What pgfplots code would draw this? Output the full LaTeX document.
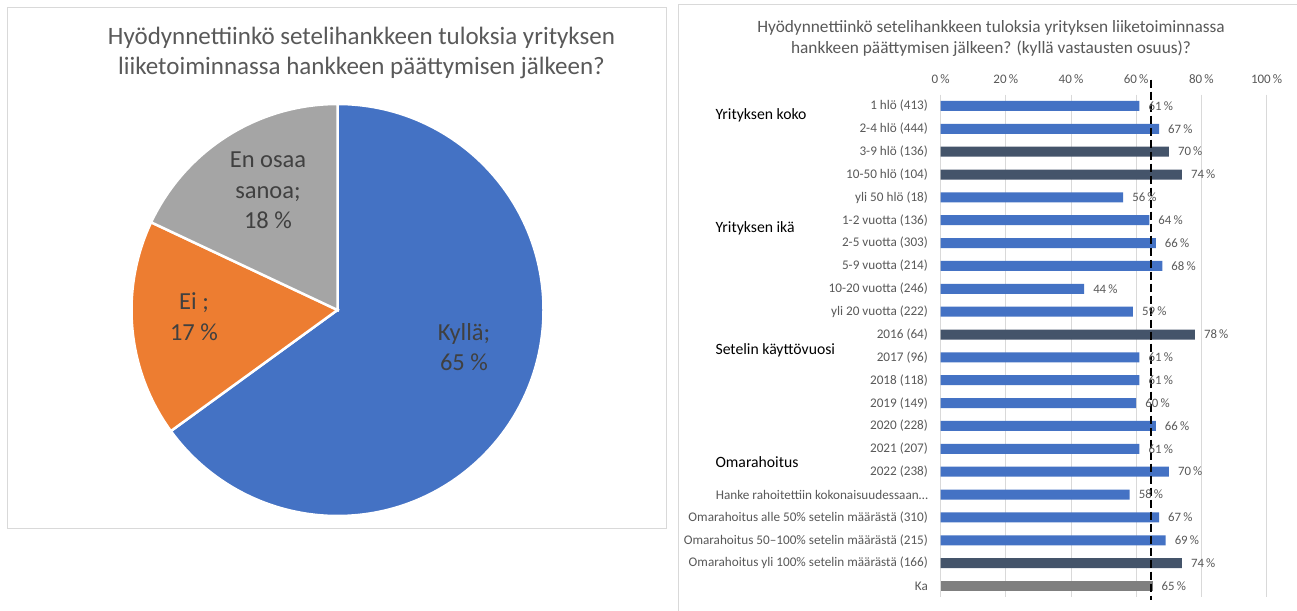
\documentclass[border=0pt]{standalone}
\usepackage{fontspec}
\setmainfont{Carlito}
\usepackage{pgfplots}
\pgfplotsset{compat=1.18}
\usepackage{pgfplotstable}
\definecolor{cblue}{HTML}{4472C4}
\definecolor{cdark}{HTML}{44546A}
\definecolor{cka}{HTML}{7F7F7F}
\definecolor{corange}{HTML}{ED7D31}
\definecolor{cpgray}{HTML}{A5A5A5}
\definecolor{ctext}{HTML}{595959}
\definecolor{cpie}{HTML}{404040}
\definecolor{cgrid}{HTML}{D9D9D9}

% Pie values (%)
\newcommand\pKylla{65}
\newcommand\pEi{17}
\newcommand\pEOS{18}

% bar rows: row index from top, value
\pgfplotstableread{
row val
0 61
1 67
4 56
5 64
6 66
7 68
8 44
9 59
11 61
12 61
13 60
14 66
15 61
16 70
17 58
18 67
19 69
}\blueData
\pgfplotstableread{
row val
2 70
3 74
10 78
20 74
}\darkData
\pgfplotstableread{
row val
21 65
}\kaData

\begin{document}
\begin{tikzpicture}
\path[use as bounding box] (0pt,0pt) rectangle (1297pt,610pt);
\fill[white] (0pt,0pt) rectangle (1297pt,610pt);
\draw[cgrid, line width=1pt] (7pt,81pt) rectangle (666pt,602pt);
\draw[cgrid, line width=1pt] (678pt,-5pt) rectangle (1305pt,605pt);

% ---------- pie ----------
\begin{axis}[at={(337.5pt,300pt)}, anchor=center, width=412pt, height=412pt,
  scale only axis, xmin=-1, xmax=1, ymin=-1, ymax=1, hide axis, clip=false]
\fill[cblue, draw=white, line width=2.5pt] (axis cs:0,0) -- (axis cs:0,1)
  arc[start angle=90, delta angle={-3.6*\pKylla}, radius=1] -- cycle;
\fill[corange, draw=white, line width=2.5pt] (axis cs:0,0) -- ({cos(90-3.6*\pKylla)},{sin(90-3.6*\pKylla)})
  arc[start angle={90-3.6*\pKylla}, delta angle={-3.6*\pEi}, radius=1] -- cycle;
\fill[cpgray, draw=white, line width=2.5pt] (axis cs:0,0) -- ({cos(90-3.6*(\pKylla+\pEi))},{sin(90-3.6*(\pKylla+\pEi))})
  arc[start angle={90-3.6*(\pKylla+\pEi)}, delta angle={-3.6*\pEOS}, radius=1] -- cycle;
\end{axis}

\node[text=ctext, align=center, font=\fontsize{25}{30}\selectfont] at (361.5pt,557pt)
  {Hyödynnettiinkö setelihankkeen tuloksia yrityksen\\liiketoiminnassa hankkeen päättymisen jälkeen?};
\node[text=cpie, align=center, font=\fontsize{24.5}{30.5}\selectfont] at (268pt,419.5pt) {En osaa\\sanoa;\\18 \%};
\node[text=cpie, align=center, font=\fontsize{24.5}{30.5}\selectfont] at (194pt,293.5pt) {Ei ;\\17 \%};
\node[text=cpie, align=center, font=\fontsize{24.5}{30.5}\selectfont] at (464pt,263pt) {Kyllä;\\65 \%};

% ---------- bars ----------
\node[text=ctext, align=center, font=\fontsize{17.3}{21}\selectfont] at (991pt,571.5pt)
  {Hyödynnettiinkö setelihankkeen tuloksia yrityksen liiketoiminnassa\\hankkeen päättymisen jälkeen? (kyllä vastausten osuus)?};

\begin{axis}[at={(940.6pt,12.6pt)}, anchor=south west, width=326pt, height=502.9pt,
  scale only axis, xmin=0, xmax=100, ymin=-0.5, ymax=21.5, y dir=reverse,
  /pgf/number format/assume math mode=true,
  xtick={0,20,40,60,80,100},
  xticklabels={0\,\%,20\,\%,40\,\%,60\,\%,80\,\%,100\,\%},
  xticklabel pos=upper,
  xmajorgrids, grid style={cgrid, line width=0.8pt},
  ytick={0,...,21},
  yticklabels={{1 hlö (413)},{2-4 hlö (444)},{3-9 hlö (136)},{10-50 hlö (104)},{yli 50 hlö (18)},
    {1-2 vuotta (136)},{2-5 vuotta (303)},{5-9 vuotta (214)},{10-20 vuotta (246)},{yli 20 vuotta (222)},
    {2016 (64)},{2017 (96)},{2018 (118)},{2019 (149)},{2020 (228)},{2021 (207)},{2022 (238)},
    {Hanke rahoitettiin kokonaisuudessaan…},{Omarahoitus alle 50\% setelin määrästä (310)},
    {Omarahoitus 50–100\% setelin määrästä (215)},{Omarahoitus yli 100\% setelin määrästä (166)},{Ka}},
  axis line style={draw=none}, major tick length=0pt,
  xticklabel style={font=\fontsize{13}{15}\selectfont, text=ctext, yshift=7pt},
  yticklabel style={font=\fontsize{13.2}{15}\selectfont, text=ctext, anchor=east, inner sep=0pt, xshift=-12.5pt},
  clip=false,
  barstyle/.style={xbar, bar width=10pt, bar shift=0pt, draw=none, point meta=x,
    nodes near coords={\pgfmathprintnumber{\pgfplotspointmeta}\,\%},
    nodes near coords style={font=\fontsize{12.8}{14}\selectfont, text=ctext, anchor=west, inner sep=0pt, xshift=9pt}},
]
\addplot[barstyle, fill=cblue] table[x=val, y=row] {\blueData};
\addplot[barstyle, fill=cdark] table[x=val, y=row] {\darkData};
\addplot[barstyle, fill=cka] table[x=val, y=row] {\kaData};
\addplot[sharp plot, black, line width=2pt, dash pattern=on 8pt off 4pt, mark=none] coordinates {(64.5,-1.15) (64.5,21.6)};
\end{axis}

\node[anchor=west, font=\fontsize{15.7}{19}\selectfont] at (712pt,495pt) {Yrityksen koko};
\node[anchor=west, font=\fontsize{15.7}{19}\selectfont] at (712pt,382pt) {Yrityksen ikä};
\node[anchor=west, font=\fontsize{15.7}{19}\selectfont] at (712pt,260pt) {Setelin käyttövuosi};
\node[anchor=west, font=\fontsize{15.7}{19}\selectfont] at (712pt,148pt) {Omarahoitus};
\end{tikzpicture}
\end{document}
